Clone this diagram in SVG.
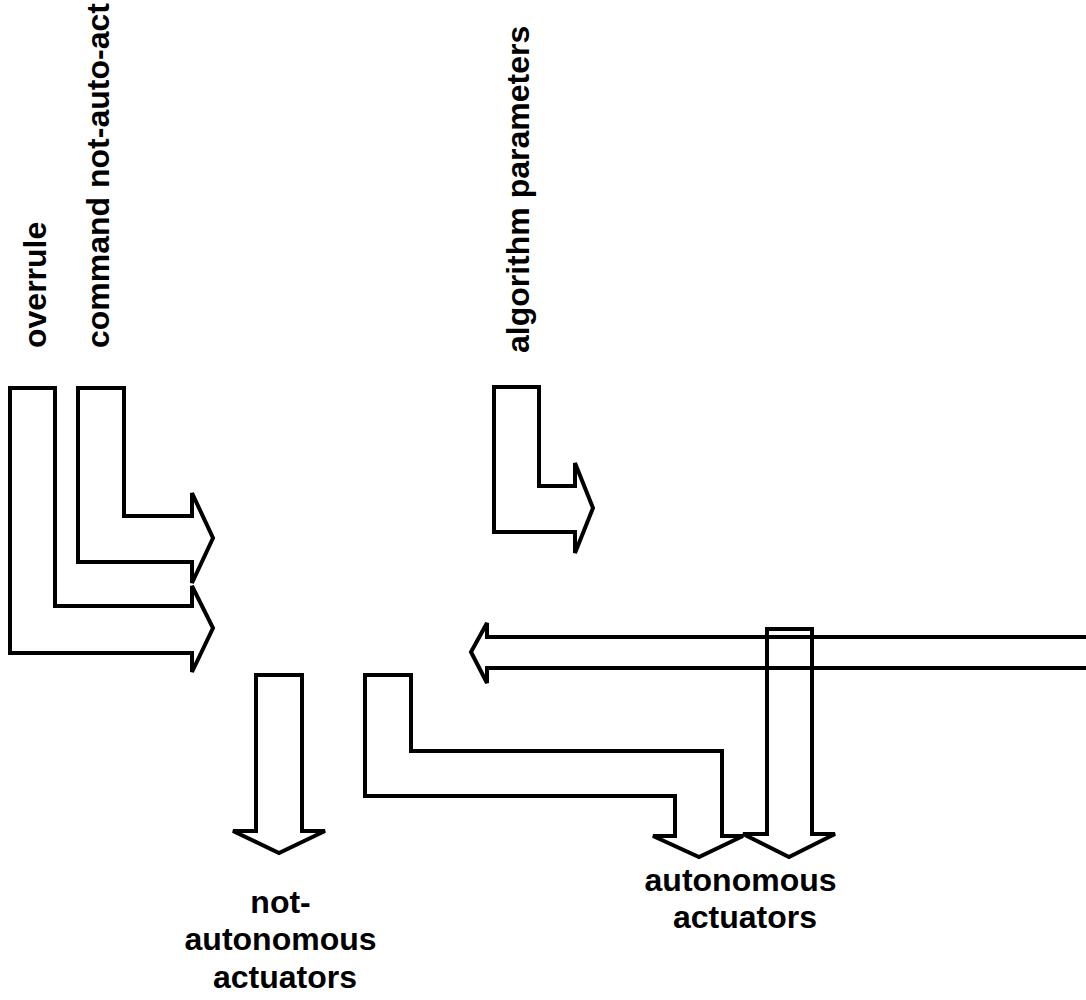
<svg xmlns="http://www.w3.org/2000/svg" width="1086" height="1000" viewBox="0 0 1086 1000">
  <style>
    .arrow { fill: none; stroke: #000; stroke-width: 4; stroke-linejoin: miter; }
    .lbl { font-family: "Liberation Sans", Arial, sans-serif; font-weight: bold; font-size: 32px; fill: #000; }
  </style>
  <rect width="1086" height="1000" fill="#fff"/>

  <!-- block arrows (connectors) -->
  <g id="connectors">
    <polygon id="overrule-arrow" class="arrow" points="10,388 55,388 55,606 192,606 192,586 213,628 192,672 192,653 10,653"/>
    <polygon id="command-arrow" class="arrow" points="78,388 124,388 124,516 192,516 192,493 213,538 192,583 192,562 78,562"/>
    <polygon id="algorithm-arrow" class="arrow" points="494,387 539,387 539,486 575,486 575,463 593,508 575,553 575,532 494,532"/>
    <polygon id="feedback-arrow" class="arrow" points="1095,637 487,637 487,623 471,652 487,683 487,668 1095,668"/>
    <polygon id="manual-down" class="arrow" points="256,675 302,675 302,831 325,831 279,853 233,831 256,831"/>
    <polygon id="auto-route" class="arrow" points="365,675 411,675 411,751 722,751 722,836 743,836 699,857 653,836 675,836 675,796 365,796"/>
    <polygon id="auto-down" class="arrow" points="767,629 812,629 812,834 835,834 789,857 743,834 767,834"/>
  </g>

  <!-- input labels -->
  <g id="node-overrule">
    <text class="lbl" transform="translate(46,348) rotate(-90)">overrule</text>
  </g>
  <g id="node-command">
    <text class="lbl" transform="translate(109,348) rotate(-90)">command not-auto-act</text>
  </g>
  <g id="node-algorithm">
    <text class="lbl" transform="translate(529,353) rotate(-90)">algorithm parameters</text>
  </g>

  <!-- output labels -->
  <g id="node-not-autonomous">
    <text class="lbl" text-anchor="middle">
      <tspan x="285" y="913">not-</tspan>
      <tspan x="285" y="950">autonomous</tspan>
      <tspan x="285" y="988">actuators</tspan>
    </text>
  </g>
  <g id="node-autonomous">
    <text class="lbl" text-anchor="middle">
      <tspan x="745" y="891">autonomous</tspan>
      <tspan x="745" y="928">actuators</tspan>
    </text>
  </g>
</svg>
